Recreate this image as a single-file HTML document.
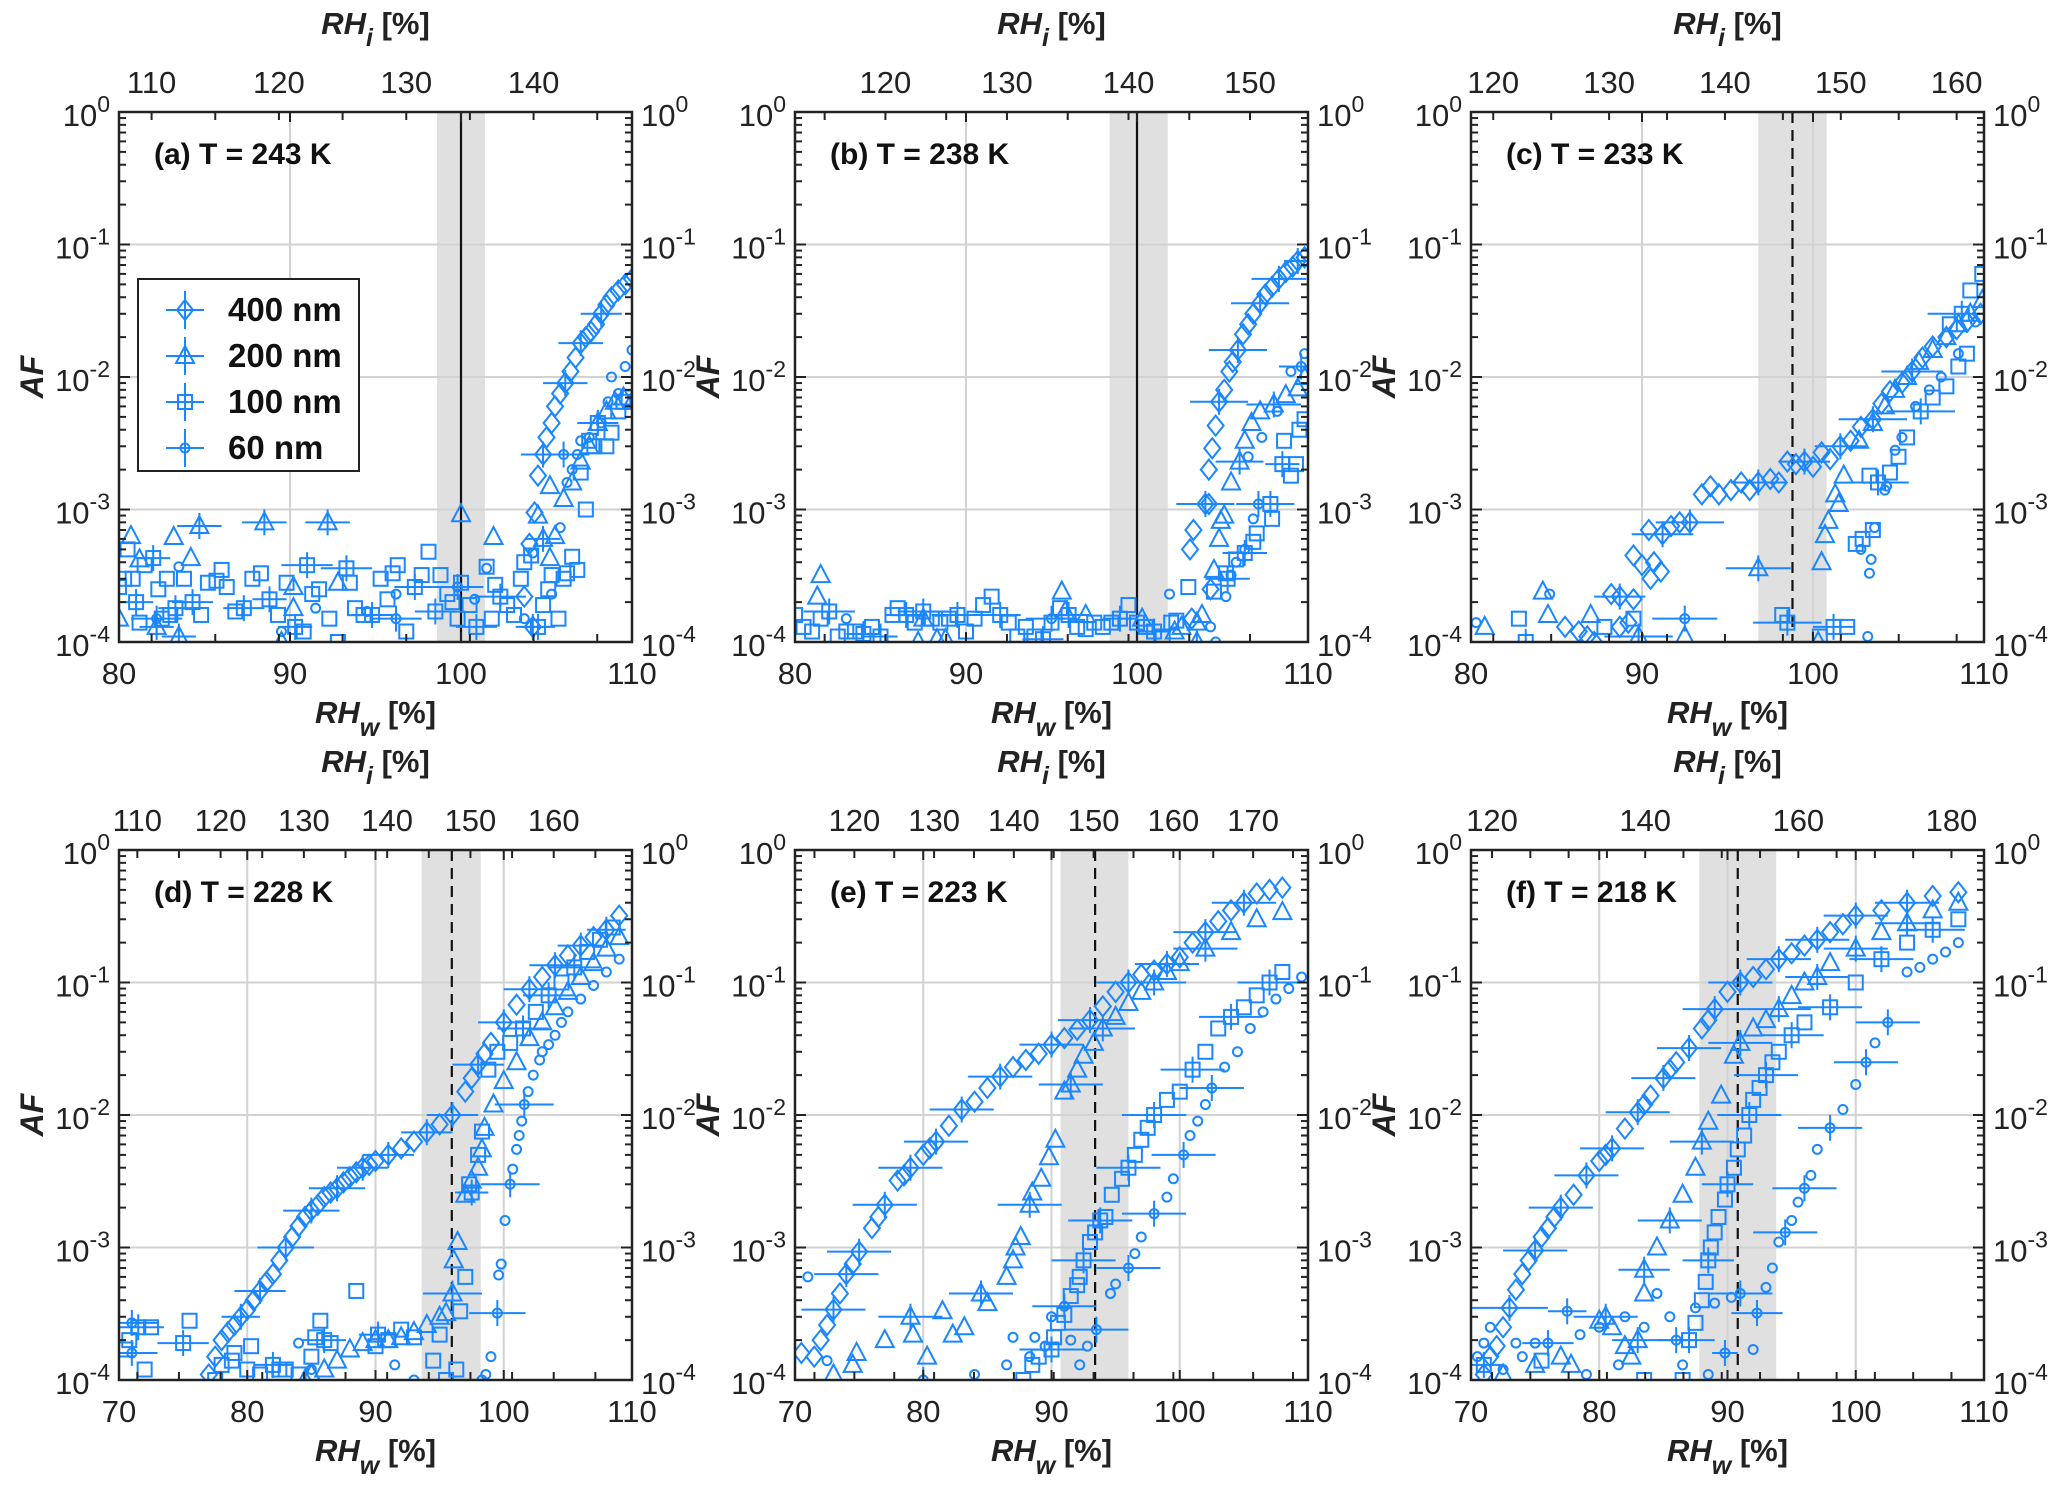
<!DOCTYPE html>
<html><head><meta charset="utf-8"><style>
html,body{margin:0;padding:0;background:#fff}
svg{display:block;font-family:"Liberation Sans",Arial,sans-serif}
</style></head><body>
<svg id="fig" width="2067" height="1494" viewBox="0 0 2067 1494" xmlns="http://www.w3.org/2000/svg">
<rect x="0" y="0" width="2067" height="1494" fill="#fff"/>
</svg>
<script>
// ---------------- data (RHw [%], AF, optional RHw error half-width) ----------------
const labels = ["(a) T = 243 K","(b) T = 238 K","(c) T = 233 K","(d) T = 228 K","(e) T = 223 K","(f) T = 218 K"];
const rhiTicksA = [110,120,130,140];
const rhiTicksB = [120,130,140,150];
const rhiTicksC = [120,130,140,150,160];
const rhiTicksD = [110,120,130,140,150,160];
const rhiTicksE = [120,130,140,150,160,170];
const rhiTicksF = [120,140,160,180];
const iceRatio = [1.343,1.407,1.476,1.54,1.608,1.675];
const satLine = [100,100,98.8,95.95,93.4,90.8];
const shadeLo = [98.6,98.4,96.8,93.6,90.7,87.8];
const shadeHi = [101.4,101.8,100.8,98.2,96.0,93.8];
const yTickLabels = ["10^0","10^-1","10^-2","10^-3","10^-4"];
const legendLabels = ["400 nm","200 nm","100 nm","60 nm"];

const a400 = [[103.7,2.2e-4],[104.2,1.3e-4,1],[104,5.5e-4],[104.3,9.5e-4],[104.5,1.8e-3],[104.8,2.6e-3,1.3],[105,3.5e-3],[105.3,4.5e-3],[105.5,6e-3],[105.8,7.5e-3],[106.1,9e-3,1.3],[106.4,1.1e-2],[106.7,1.4e-2],[107,1.8e-2,1.3],[107.3,2e-2],[107.6,2.2e-2],[107.9,2.5e-2],[108.2,3e-2,1.2],[108.5,3.5e-2],[108.8,4e-2],[109.2,4.5e-2],[109.6,5e-2],[110,5.5e-2]];
const a200 = [[80,1.5e-4],[80.7,6.3e-4],[81.2,4.2e-4],[82.2,1.3e-4,1],[83.2,6.2e-4],[83.5,1.1e-4,1],[84.2,4.3e-4],[84.7,7.5e-4,1.3],[88.5,8e-4,1.3],[92.2,8e-4,1.3],[90.2,2.6e-4],[90.2,1.8e-4],[89.5,1e-4],[92.8,2.8e-4],[100,9.2e-4],[101.9,6.2e-4],[104.5,9e-4],[104.8,6e-4,1],[105.5,6.3e-4],[105.2,1.5e-3],[105.2,4.3e-4],[106,1.2e-3],[106.5,1.6e-3],[107,2.3e-3],[107.5,3e-3],[108,4.5e-3,1],[108.5,5.5e-3],[109,6.5e-3],[109.5,7e-3],[110,6.5e-3]];
const a100 = [[80,2.6e-4],[80.3,3e-4],[80.5,5e-4],[80.8,3e-4],[81,2e-4,1],[81.2,1.4e-4],[81.5,3.8e-4],[82,4.3e-4,1],[82.3,2.5e-4],[82.5,1.5e-4],[82.8,3e-4],[83,1.6e-4],[83.3,1.8e-4,1],[83.8,3e-4],[84.3,2e-4,1.2],[84.8,1.6e-4],[85.2,2.8e-4],[85.7,2.9e-4],[86,3.5e-4],[86.3,2.6e-4],[86.8,1.7e-4],[87.3,1.8e-4,1.2],[87.8,3e-4],[88.3,3.3e-4],[88.8,2.1e-4,1],[89.3,1.6e-4],[89.8,2.8e-4],[90.3,1.3e-4,1],[90.8,1.2e-4],[91,3.8e-4,1.5],[91.3,2.3e-4],[91.7,2.5e-4],[92.3,1.5e-4],[92.8,1e-4],[93.3,3.6e-4,1.5],[93.5,2.8e-4],[93.8,1.8e-4],[94.3,1.6e-4],[94.8,1.6e-4,1.2],[95.3,3e-4],[95.7,2.1e-4],[96,3.3e-4],[96.3,3.8e-4],[96.8,1.2e-4],[97.3,2.6e-4,1.2],[97.7,3.2e-4],[98.1,4.8e-4],[98.5,1.7e-4,1.2],[98.8,3.2e-4],[99.2,2.3e-4],[99.5,2e-4],[99.8,1.5e-4],[100,2.8e-4],[100.5,1.9e-4],[100.9,1.3e-4,1.2],[101.5,3.7e-4],[101.8,1.5e-4],[102,2.7e-4],[102.3,2.2e-4,1.5],[102.7,1.9e-4],[103.1,1.6e-4],[103.5,3e-4],[103.7,4e-4],[104.1,4.5e-4],[104.5,1.3e-4,1],[104.8,1.9e-4],[105.1,2.5e-4],[105.3,3.2e-4],[105.7,1.5e-4],[106,3e-4],[106.2,3.3e-4],[106.5,4.4e-4],[106.8,3.5e-4],[107,1.9e-3],[107.3,1e-3],[107.5,3.3e-3],[107.8,3e-3],[108,4.5e-3,1.2],[108.5,3e-3],[108.8,3.8e-3],[109.2,5.5e-3],[109.5,6.5e-3],[109.8,7e-3]];
const a60 = [[82.2,1.5e-4,1.5],[83.5,3.7e-4],[89.5,1.2e-4],[91.5,1.8e-4],[94.5,1.7e-4],[96.2,2.3e-4],[96.2,1.5e-4,1.5],[99.8,2.6e-4,1.5],[100.8,2.1e-4],[101.5,3.6e-4],[103.7,1.5e-4],[104.2,4.7e-4],[105.3,2.3e-4],[105.8,7.3e-4],[106,2.6e-3,1.5],[106.2,1.6e-3],[106.5,2e-3],[106.8,2.6e-3],[107,3.3e-3],[107.5,3.5e-3],[108.2,4.5e-3],[108.6,6.5e-3],[108.8,1e-2],[109.2,7.5e-3],[109.6,1.2e-2],[110,1.6e-2]];

const b400 = [[103.2,1.5e-4],[104.3,2.5e-4],[103.1,5e-4],[103.3,7e-4],[104,1.1e-3,1.7],[104.2,1.1e-3],[104.2,2e-3],[104.4,2.9e-3],[104.6,4.3e-3],[104.8,6.5e-3,1.7],[105.1,8e-3],[105.4,1.1e-2],[105.6,1.3e-2],[105.9,1.6e-2,1.7],[106.2,2.1e-2],[106.5,2.5e-2],[106.8,3e-2],[107.2,3.6e-2,1.7],[107.5,4.2e-2],[107.9,4.8e-2],[108.3,5.5e-2,1.6],[108.7,6.2e-2],[109.1,6.8e-2],[109.4,7.5e-2,0.8],[109.8,8e-2]];
const b200 = [[81.5,3.2e-4],[81.3,2.2e-4],[87.2,1e-4],[88.3,1.05e-4],[88.8,1.05e-4],[87.5,1.5e-4],[95.6,2.4e-4],[95.8,1.7e-4],[97,1.6e-4],[100.3,1.5e-4],[102.2,1.2e-4],[102.6,1.3e-4],[103.5,1.4e-4],[103.8,1.6e-4],[103.5,1e-4,1.4],[104.5,3.5e-4],[104.8,6e-4],[104.9,8.2e-4],[105.1,9e-4],[105.5,1.6e-3],[106,2.3e-3,1.4],[106.3,3.3e-3],[106.7,4.5e-3],[107.2,5.5e-3],[108,6.2e-3,1.6],[108.7,7.3e-3],[109.4,8.2e-3],[109.8,1e-2]];
const b100 = [[80,1.6e-4],[80.5,1.3e-4],[81,1.2e-4],[81.5,1.5e-4],[82,1.7e-4,1.5],[82.5,1.1e-4],[83,1.2e-4],[83.5,1.2e-4],[84,1.15e-4,1],[84.5,1.3e-4],[85,1.1e-4,1],[85.7,1.6e-4],[86,1.8e-4],[86.5,1.6e-4,1.2],[87,1.4e-4],[87.5,1.7e-4,1.5],[88,1.5e-4],[88.5,1.4e-4],[89,1.5e-4],[89.5,1.6e-4,1.5],[90,1.2e-4],[90.5,1.5e-4],[91,1.9e-4],[91.5,2.2e-4],[92,1.6e-4,1.2],[92.5,1.4e-4],[93,1.1e-4],[93.5,1.3e-4],[94,1.1e-4],[94.5,1.05e-4,1.2],[95,1.4e-4],[95.5,1.8e-4],[96,1.6e-4,1.2],[96.5,1.3e-4],[97,1.25e-4],[97.5,1.4e-4],[98,1.3e-4],[98.5,1.4e-4],[99,1.5e-4,1],[99.5,1.9e-4],[100,1.4e-4],[100.5,1.3e-4],[101,1.2e-4,1],[101.5,1.1e-4],[102,1.4e-4],[102.3,1.45e-4],[103,2.6e-4],[104.5,2.4e-4],[105.2,3.3e-4],[105.3,3e-4,1.3],[105.8,4.2e-4],[106.3,4.7e-4,1.3],[106.8,5.7e-4],[107,6.6e-4],[107.8,1.1e-3,1.4],[107.9,8.5e-4],[108.5,2.2e-3,1],[109,1.8e-3],[109.3,2.2e-3],[108.6,3.3e-3],[109.5,4e-3],[109.8,4.8e-3]];
const b60 = [[83,1.5e-4],[95,1.5e-4,1.5],[101.9,2.3e-4],[104.3,1.3e-4],[104.6,1e-4],[105.2,2.2e-4],[105.5,3.2e-4],[105.8,4e-4],[106.3,5e-4],[106.8,8.5e-4],[107.1,1.1e-3,1.3],[106.5,2.5e-3],[107.3,3.5e-3],[108.2,5.5e-3],[109,1.1e-2],[109.8,1.5e-2],[109.6,1.2e-2,1.3]];

const c400 = [[85.5,1.3e-4],[86.3,1.2e-4],[86.8,1.1e-4],[87.2,1e-4],[88.7,1.3e-4],[89.2,1.4e-4],[88.2,2.3e-4],[88.7,2.2e-4,1.5],[89.5,2.1e-4],[89.5,4.5e-4],[90,3.8e-4],[90.5,3e-4],[90.7,4e-4],[91.1,3.4e-4],[90.4,7e-4],[91.2,6.5e-4,1.8],[91.7,7.5e-4],[92.2,8e-4],[92.8,8e-4,2],[93.5,1.3e-3],[94,1.5e-3],[94.5,1.3e-3],[95.2,1.4e-3],[95.8,1.6e-3],[96.3,1.4e-3],[96.8,1.6e-3,1.6],[97.5,1.7e-3],[98,1.6e-3],[98.5,2.3e-3],[99,2.2e-3],[99.5,2.3e-3,1.5],[100,2.1e-3],[100.5,2.7e-3],[101,2.4e-3],[101.6,3e-3,1.5],[102.2,3.3e-3],[102.8,4.2e-3],[103.5,4.8e-3,2],[104,6.3e-3],[104.5,7.8e-3],[105.2,9e-3],[105.8,1.1e-2,1.8],[106.4,1.4e-2],[107,1.7e-2],[107.8,2e-2],[108.4,2.3e-2],[109,2.6e-2],[109.8,3e-2]];
const c200 = [[80.8,1.3e-4],[84.2,2.4e-4],[84.5,1.6e-4],[87,1.6e-4],[89.8,1.1e-4,2],[92.5,1.1e-4],[96.8,3.6e-4,1.9],[100.3,1e-4],[100.5,4e-4],[100.7,6.4e-4],[100.9,8.2e-4],[101.3,1.3e-3],[101.5,1.1e-3],[101.8,1.8e-3],[102.7,3.3e-3],[103.5,4.5e-3],[104.2,6e-3],[104.8,8e-3],[105.5,1e-2],[106.2,1.3e-2],[107,1.6e-2],[107.8,2e-2],[108.5,2.5e-2],[109.2,3e-2],[109.9,3.8e-2]];
const c100 = [[82.8,1.5e-4],[83.2,1e-4,1.5],[87.8,1.3e-4],[89.5,1.5e-4],[98.2,1.6e-4],[98.5,1.4e-4,2],[100.4,1.1e-4],[101.2,1.3e-4,1.2],[102,1.3e-4],[102.5,5.5e-4],[102.9,6e-4],[103.5,7e-4],[103.3,1.8e-3],[103.8,1.6e-3,1.8],[104.5,1.9e-3],[105,2.5e-3],[105.5,3.5e-3],[106.3,5.5e-3,2],[107,7e-3],[107.8,8.5e-3],[108.5,1.2e-2],[109,1.5e-2],[109.2,4.5e-2],[109.9,6e-2],[108,2.5e-2],[108.7,3e-2,2]];
const c60 = [[80.3,1.4e-4],[84.6,2.3e-4],[92.5,1.5e-4,1.9],[103.2,1.1e-4],[102.8,5e-4],[103.4,4.2e-4],[103.6,7.3e-4],[103.3,3.3e-4],[104.2,1.4e-3],[104.3,1.5e-3],[104.8,2.8e-3],[105.2,3.5e-3],[106,6e-3],[106.8,8e-3],[107.5,1e-2],[108.5,1.5e-2],[109.5,2.6e-2]];

const d400 = [[77,1.1e-4],[77.5,1.5e-4],[78,2e-4],[78.5,2.3e-4],[79,2.6e-4],[79.5,3e-4,1.5],[80,3.4e-4],[80.5,4e-4],[81,4.7e-4,2],[81.5,5.5e-4],[82,6.3e-4],[82.5,8e-4],[83,1e-3,2.2],[83.5,1.2e-3],[84,1.45e-3],[84.5,1.7e-3],[85,1.9e-3,2.2],[85.5,2.1e-3],[86,2.4e-3],[86.5,2.6e-3],[87,2.8e-3,2.2],[87.5,3.1e-3],[88,3.4e-3],[88.5,3.7e-3],[89,4e-3,2],[89.5,4.2e-3],[90,4.5e-3],[91,5e-3,2],[92,5.6e-3],[93,6.3e-3],[94,7.4e-3,2],[95,8.5e-3],[96,1e-2,2],[97,1.5e-2],[97.5,1.9e-2],[98,2.4e-2,2],[98.5,2.9e-2],[99,3.5e-2],[100,5e-2,2],[101,6.8e-2],[102,8.9e-2,2],[103,0.11],[104,0.135,2],[105,0.16],[106,0.19,1.8],[107,0.22],[108,0.25,1.5],[109,0.32]];
const d200 = [[84.5,1e-4],[85,1.1e-4],[86,1.2e-4],[87,1.4e-4],[88,1.7e-4],[89,1.9e-4],[90,2e-4],[91,2e-4],[92,2.1e-4],[93,2.3e-4],[94,2.6e-4],[95,3e-4],[95.5,3.2e-4],[96,4.5e-4,2.3],[96.1,8e-4],[96.4,1.1e-3],[97,2.5e-3],[97.5,3.2e-3],[98,4e-3],[98.3,5.5e-3],[98.5,8e-3],[99.2,1.2e-2],[100,1.8e-2],[101,2.5e-2],[102,3.8e-2],[103,5e-2],[104,6.5e-2],[105,8.5e-2],[106,0.11],[107,0.14],[108,0.18],[109,0.22]];
const d100 = [[70.5,1.7e-4],[70.8,2e-4],[71.5,2.5e-4,2],[72,1.2e-4],[72.5,2.5e-4],[75,1.9e-4,2],[75.5,2.8e-4],[77.5,1e-4],[78,1.3e-4],[78.8,1.4e-4],[79,1.6e-4],[80,1.2e-4],[80.3,1.8e-4],[81,1.1e-4],[82,1.3e-4,1.5],[82.5,1.2e-4],[83,1.2e-4],[84,1.1e-4],[85,1.5e-4],[85.3,2.1e-4],[85.7,2.8e-4],[86,2e-4,1.7],[86.5,1.9e-4],[88.5,4.7e-4],[90,1.8e-4],[90.2,2.2e-4,1.5],[91,2e-4],[92,2.4e-4],[93,2.1e-4],[94.5,1.4e-4],[95,2.2e-4],[95.5,1e-4],[96.3,1.2e-4],[96.6,3.3e-4],[97,6e-4],[97.5,2.6e-3,1.3],[97.3,3e-3],[98,5e-3],[98.3,7.5e-3],[98.8,2.2e-2],[99.5,3e-2],[100.5,3.5e-2],[101.5,4.5e-2,2],[102.5,6e-2],[103.5,8e-2,2],[104.5,0.1],[105.5,0.13,2],[106.5,0.17],[107.5,0.21],[108.5,0.26]];
const d60 = [[71,1.6e-4,2],[71,2.7e-4,2],[85,1.2e-4],[84,1.9e-4],[91.5,1.3e-4],[93,1e-4],[98.3,1e-4],[98.6,1.1e-4],[99,1.5e-4],[99.5,3.2e-4,2.2],[99.6,6.2e-4],[99.8,7.5e-4],[100.1,1.6e-3],[100.5,3e-3,2.3],[100.7,3.9e-3],[101,5.5e-3],[101.2,7e-3],[101.4,9e-3],[101.6,1.2e-2,2.3],[101.9,1.5e-2],[102.3,2e-2],[102.8,2.6e-2],[103,3e-2],[103.5,3.4e-2],[104,4e-2],[104.5,5e-2],[105,6e-2],[106,7.5e-2],[107,9.5e-2],[108,0.12],[109,0.15]];

const e400 = [[70.5,1.6e-4],[71.5,1.5e-4],[72,2e-4],[72.5,2.6e-4],[73,3.4e-4,2.5],[73.5,4.5e-4],[74,6.3e-4,2.5],[74.5,7.5e-4],[75,9.3e-4,2.5],[76,1.4e-3],[76.5,1.7e-3],[77,2.1e-3,2.5],[78,3.2e-3],[78.5,3.5e-3],[79,4e-3,2.5],[80,5e-3],[80.5,5.6e-3],[81,6.3e-3,2.5],[82,8.3e-3],[83,1.1e-2,2.5],[84,1.26e-2],[85,1.6e-2],[86,1.95e-2,2.5],[87,2.3e-2],[88,2.6e-2],[89,2.9e-2],[90,3.4e-2,2.5],[91,3.8e-2],[92,4.4e-2],[93,5.2e-2,2.5],[94,6.6e-2],[95,8.5e-2],[96,0.1,2.5],[97,0.115],[98,0.123],[99,0.138,2.5],[100,0.155],[101,0.2],[102,0.24,2.5],[103,0.29],[104,0.35],[105,0.4,2.5],[106,0.47],[107,0.5],[108,0.52]];
const e200 = [[73,1.1e-4],[74.5,1.3e-4],[74.8,1.6e-4],[77,2e-4],[79,3e-4,2.5],[79.2,2.2e-4],[80.3,1.5e-4],[81.5,3.3e-4],[82.3,2.2e-4],[83.2,2.5e-4],[84.5,4.5e-4,2.5],[85,3.8e-4],[86.5,6e-4],[87,8e-4],[87.2,1e-3],[87.6,1.2e-3],[88.3,2.1e-3,2.5],[88.5,2.6e-3],[89.2,3.3e-3],[89.8,4.8e-3],[90.3,6.5e-3],[91,1.5e-2],[91.5,1.7e-2,2.5],[92,2.2e-2],[92.5,2.8e-2],[93.3,3.5e-2],[94,4.5e-2,2.5],[95,5.5e-2],[96,7e-2],[97,8.5e-2],[98,0.1,2.5],[99,0.12],[100,0.14],[102,0.18,2.5],[104,0.24],[106,0.3],[108,0.34]];
const e100 = [[87.8,1e-4],[88.5,1.3e-4],[89,1.5e-4],[90,1.7e-4,2.5],[90.2,2.1e-4],[90.5,2.7e-4],[91,3.1e-4],[91.5,4.3e-4],[92,5.2e-4],[92.2,6e-4],[92.5,8e-4,2.5],[93,1.1e-3],[93.4,1.3e-3],[93.8,1.6e-3,2.5],[94.2,1.7e-3],[94.7,2.5e-3],[95.5,3.3e-3],[96,4e-3,2.5],[96.5,5e-3],[97,6.5e-3],[97.5,8e-3],[98,1e-2,2.5],[99,1.3e-2],[100,1.5e-2],[101,2.2e-2,2.5],[102,3e-2],[103,4.5e-2],[104,5.5e-2,2.5],[105,6.5e-2],[106,8e-2],[107,0.1,2.5],[108,0.12]];
const e60 = [[71,6e-4],[72.5,1.4e-4],[80,1e-4,2.5],[84,1.1e-4],[86.5,1.3e-4],[87,2.1e-4],[88.3,1.5e-4],[88.7,2.1e-4],[89.5,1.8e-4],[90,3e-4],[91,3.6e-4,2.5],[91.5,2e-4],[92.2,1.3e-4],[92.8,1.8e-4],[93.5,2.4e-4,2.5],[94.6,4.5e-4],[95,5.3e-4],[96,7e-4,2.5],[96.5,9e-4],[97,1.2e-3],[98,1.8e-3,2.5],[99,2.4e-3],[99.5,3.3e-3],[100.3,5e-3,2.5],[100.8,7e-3],[101.4,9e-3],[102,1.2e-2],[102.5,1.6e-2,2.5],[103.5,2.3e-2],[104.5,3e-2],[105.5,4.5e-2],[106.5,6e-2],[107.5,7.5e-2],[108.5,9e-2],[109.5,0.11]];

const f400 = [[71,1.1e-4],[71.5,1.5e-4],[72,1.8e-4],[72.5,2.5e-4],[73,3.5e-4,3],[73.5,4.8e-4],[74,6.3e-4],[74.5,8e-4],[75,9.5e-4,2.5],[75.5,1.2e-3],[76,1.4e-3],[76.5,1.7e-3],[77,2e-3,2.5],[78,2.5e-3],[79,3.5e-3,2.5],[80,4.5e-3],[80.5,5e-3],[81,5.6e-3,2.5],[82,7.9e-3],[83,1.05e-2,2.5],[83.5,1.2e-2],[84,1.4e-2],[85,1.9e-2,2.5],[85.5,2.2e-2],[86,2.5e-2],[87,3.2e-2,2.5],[88,4.5e-2],[88.5,5.2e-2],[89,6.3e-2,2.5],[90,8.5e-2],[91,0.1,2.5],[92,0.11],[93,0.126],[94,0.15,2.5],[95,0.166],[96,0.19],[97,0.21,2.5],[98,0.24],[99,0.275],[100,0.32,2.5],[102,0.35],[104,0.4,2.5],[106,0.45],[108,0.48]];
const f200 = [[72.5,1.1e-4],[75,1.3e-4],[77,1.5e-4],[77.8,1.3e-4],[80,2.8e-4],[80.5,3e-4,2.5],[81,2.5e-4],[82,1.8e-4],[82.5,1.5e-4],[83,2e-4,2],[83.5,4.5e-4],[83.5,6.8e-4,2],[84.5,1e-3],[85.5,1.6e-3,2.5],[86.5,2.5e-3],[87.5,4e-3],[88,6.3e-3,2.5],[88.5,8.9e-3],[89.5,1.4e-2],[90.5,2.8e-2],[91,3.5e-2,2.5],[92,4.5e-2],[93,5.2e-2],[94,6.3e-2,2.5],[95,7.9e-2],[96,0.1],[97,0.11,2.5],[98,0.14],[100,0.18,2.5],[102,0.24],[104,0.28,2.5],[106,0.35],[108,0.4]];
const f100 = [[71,1.3e-4,1.5],[75.5,1.4e-4],[83.5,1e-4],[86.5,1e-4],[87,2e-4,2],[87.5,2.7e-4],[88,4e-4],[88.3,5.5e-4],[88.5,8e-4,2],[88.7,1e-3],[89,1.3e-3],[89.3,1.7e-3],[89.8,2.3e-3],[90,3e-3,2],[90.5,4e-3],[90.8,5.5e-3],[91.3,7e-3],[91.7,1e-2,2.5],[92,1.3e-2],[92.5,1.6e-2],[93,2e-2,2.5],[93.5,2.5e-2],[94,3e-2],[95,4e-2,2.5],[96,5e-2],[98,6.5e-2,2.5],[100,0.1],[102,0.15,2.5],[104,0.2],[106,0.25,2.5],[108,0.3]];
const f60 = [[70.5,1.5e-4],[71,1.9e-4],[71.5,2.5e-4],[72.5,1.2e-4],[73.5,1.9e-4],[74,1.5e-4],[75,1.9e-4],[76,1.9e-4,2],[77.5,3.3e-4,1.5],[79,1.1e-4],[78.5,2.2e-4],[80,2.5e-4],[81.5,1.3e-4],[82,3e-4],[83.5,2.5e-4],[84.5,4.5e-4],[85.5,3e-4],[86,2e-4,1.5],[86.5,1.3e-4],[87.5,3.5e-4],[88.5,1.1e-4],[89,3.8e-4],[89.8,1.6e-4,1],[90.3,4.2e-4],[91,4.5e-4,2.5],[92,1.7e-4],[92.3,3.2e-4,2],[93,5e-4],[93.5,7e-4],[94,1.1e-3],[94.5,1.3e-3,2.5],[95,1.6e-3],[95.5,2.2e-3],[96,2.8e-3,2.5],[96.5,3.5e-3],[97,5.5e-3],[98,8e-3,2.5],[99,1.1e-2],[100,1.7e-2],[100.8,2.5e-2,2.5],[101.5,3.5e-2],[102.5,5e-2,2.5],[104,0.12],[105,0.13],[106,0.15],[107,0.17],[108,0.2]];

const panelSeries = [[a400,a200,a100,a60],[b400,b200,b100,b60],[c400,c200,c100,c60],[d400,d200,d100,d60],[e400,e200,e100,e60],[f400,f200,f100,f60]];
const rhiTickSets = [rhiTicksA,rhiTicksB,rhiTicksC,rhiTicksD,rhiTicksE,rhiTicksF];
const markerKinds = ["diamond","triangle","square","circle"];

// ---------------- layout ----------------
const NS = "http://www.w3.org/2000/svg";
const svg = document.getElementById("fig");
const COLOR = "#1a86ff";
const lefts = [119,795,1471];
const tops = [112,850];
const PW = 513, PH = 530;
const xRanges = [[80,110],[80,110],[80,110],[70,110],[70,110],[70,110]];

function el(tag, attrs, parent){
  const e = document.createElementNS(NS, tag);
  for (const k in attrs) e.setAttribute(k, attrs[k]);
  (parent||svg).appendChild(e);
  return e;
}

function powLabel(g, x, y, s, anchor){
  const m = s.split("^");
  const t = el("text",{x:x,y:y,"font-size":31,"text-anchor":anchor,fill:"#222"},g);
  
  
  const b = el("tspan",{},t); b.textContent = m[0];
  const e = el("tspan",{dy:-14,"font-size":23},t); e.textContent = m[1];
}

function marker(g, kind, x, y, err, xs){
  if (err){
    const x1 = xs(-err), x2 = xs(err);
    el("line",{x1:x+x1,x2:x+x2,y1:y,y2:y,stroke:COLOR,"stroke-width":2},g);
    el("line",{x1:x,x2:x,y1:y-13,y2:y+13,stroke:COLOR,"stroke-width":2},g);
  }
  let m;
  if (kind==="diamond") m = el("polygon",{points:`${x},${y-10} ${x+8},${y} ${x},${y+10} ${x-8},${y}`},g);
  else if (kind==="triangle") m = el("polygon",{points:`${x},${y-10} ${x+9},${y+7} ${x-9},${y+7}`},g);
  else if (kind==="square") m = el("rect",{x:x-7,y:y-7,width:14,height:14},g);
  else m = el("circle",{cx:x,cy:y,r:4.5},g);
  m.setAttribute("fill","none"); m.setAttribute("stroke",COLOR); m.setAttribute("stroke-width",2);
  return m;
}

for (let p=0;p<6;p++){
  const L = lefts[p%3], T = tops[Math.floor(p/3)], R = L+PW, B = T+PH;
  const [x0,x1] = xRanges[p];
  const xs = v => L + (v-x0)/(x1-x0)*PW;
  const dx = d => d/(x1-x0)*PW;
  const ys = v => T + (-Math.log10(v))/4*PH;
  const fr = iceRatio[p];
  const g = el("g",{});
  
  

  const sh = el("rect",{x:xs(shadeLo[p]),y:T,width:xs(shadeHi[p])-xs(shadeLo[p]),height:PH,fill:"#e0e0e0"},g);
  
  
  for (let v=x0; v<=x1; v+=10){
    if (v>x0 && v<x1) el("line",{x1:xs(v),x2:xs(v),y1:T,y2:B,stroke:"#d2d2d2","stroke-width":2},g);
  }
  for (let d=1; d<4; d++) el("line",{x1:L,x2:R,y1:T+d*PH/4,y2:T+d*PH/4,stroke:"#d2d2d2","stroke-width":2},g);
  const sl = el("line",{x1:xs(satLine[p]),x2:xs(satLine[p]),y1:T,y2:B,stroke:"#111","stroke-width":2.2},g);
  if (p>=2) sl.setAttribute("stroke-dasharray","11,7");
  
  

  const series = panelSeries[p];
  for (let s=3; s>=0; s--){
    const sg = el("g",{},g);
    
    
    for (const pt of series[s]){
      const mk = marker(sg, markerKinds[s], xs(pt[0]), ys(pt[1]), pt[2]||0, dx);
      
      
    }
  }

  el("rect",{x:L-40,y:T-30,width:PW+80,height:30,fill:"#fff"},g);
  el("rect",{x:L-40,y:B+1,width:PW+80,height:24,fill:"#fff"},g);
  el("rect",{x:R+1,y:T-10,width:28,height:PH+20,fill:"#fff"},g);
  el("rect",{x:L-28,y:T-10,width:28,height:PH+20,fill:"#fff"},g);

  const tk = {stroke:"#222","stroke-width":2};
  for (let v=x0; v<=x1; v+=10){
    el("line",Object.assign({x1:xs(v),x2:xs(v),y1:B,y2:B-10},tk),g);
    el("line",Object.assign({x1:xs(v),x2:xs(v),y1:T,y2:T+10},tk),g);
  }
  for (let r=Math.ceil(x0*fr/5)*5; r<=x1*fr; r+=5){
    const xv = xs(r/fr);
    el("line",Object.assign({x1:xv,x2:xv,y1:T,y2:T+8},tk),g);
    el("line",Object.assign({x1:xv,x2:xv,y1:B,y2:B-8},tk),g);
  }
  for (let d=0; d<4; d++){
    for (let k=2;k<=9;k++){
      const yv = T + (d+1 - Math.log10(k))*PH/4;
      el("line",Object.assign({x1:L,x2:L+7,y1:yv,y2:yv},tk),g);
      el("line",Object.assign({x1:R,x2:R-7,y1:yv,y2:yv},tk),g);
    }
  }
  for (let d=0; d<=4; d++){
    const yv = T + d*PH/4;
    el("line",Object.assign({x1:L,x2:L+11,y1:yv,y2:yv},tk),g);
    el("line",Object.assign({x1:R,x2:R-11,y1:yv,y2:yv},tk),g);
    powLabel(g, L-9, yv+14, yTickLabels[d], "end");
    powLabel(g, R+9, yv+14, yTickLabels[d], "start");
  }
  const frame = el("rect",{x:L,y:T,width:PW,height:PH,fill:"none",stroke:"#222","stroke-width":2.5},g);
  
  

  for (let v=x0; v<=x1; v+=10){
    const t = el("text",{x:xs(v),y:B+42,"font-size":31,"text-anchor":"middle",fill:"#222"},g);
    t.textContent = v;
    
    
  }
  for (const r of rhiTickSets[p]){
    const t = el("text",{x:xs(r/fr),y:T-19,"font-size":31,"text-anchor":"middle",fill:"#222"},g);
    t.textContent = r;
    
    
  }
  const cx = L+PW/2;
  const xt = el("text",{x:cx,y:B+81,"font-size":31,"font-weight":"bold","text-anchor":"middle",fill:"#222"},g);
  xt.innerHTML = '<tspan font-style="italic">RH</tspan><tspan font-style="italic" font-size="25" dy="13">w</tspan><tspan dy="-13"> [%]</tspan>';
  
  
  const tt = el("text",{x:cx,y:T-78,"font-size":31,"font-weight":"bold","text-anchor":"middle",fill:"#222"},g);
  tt.innerHTML = '<tspan font-style="italic">RH</tspan><tspan font-style="italic" font-size="25" dy="12">i</tspan><tspan dy="-12"> [%]</tspan>';
  
  
  const yt = el("text",{x:0,y:0,"font-size":32,"font-weight":"bold","font-style":"italic","text-anchor":"middle",fill:"#222",transform:`translate(${L-76},${T+PH/2}) rotate(-90)`},g);
  yt.textContent = "AF";
  
  
  const pl = el("text",{x:L+35,y:T+52,"font-size":30,"font-weight":"bold",fill:"#111"},g);
  pl.textContent = labels[p];
  
  
}

const lg = el("g",{});


el("rect",{x:138,y:279,width:221,height:192,fill:"#fff",stroke:"#222","stroke-width":2},lg);
for (let i=0;i<4;i++){
  const y = 310 + i*46;
  const eg = el("g",{},lg);
  
  
  el("line",{x1:166,x2:204,y1:y,y2:y,stroke:COLOR,"stroke-width":2},eg);
  el("line",{x1:185,x2:185,y1:y-19,y2:y+19,stroke:COLOR,"stroke-width":2},eg);
  marker(eg, markerKinds[i], 185, y, 0, v=>v);
  const t = el("text",{x:228,y:y+11,"font-size":33,"font-weight":"bold",fill:"#111"},eg);
  t.textContent = legendLabels[i];
}
</script>
</body></html>
